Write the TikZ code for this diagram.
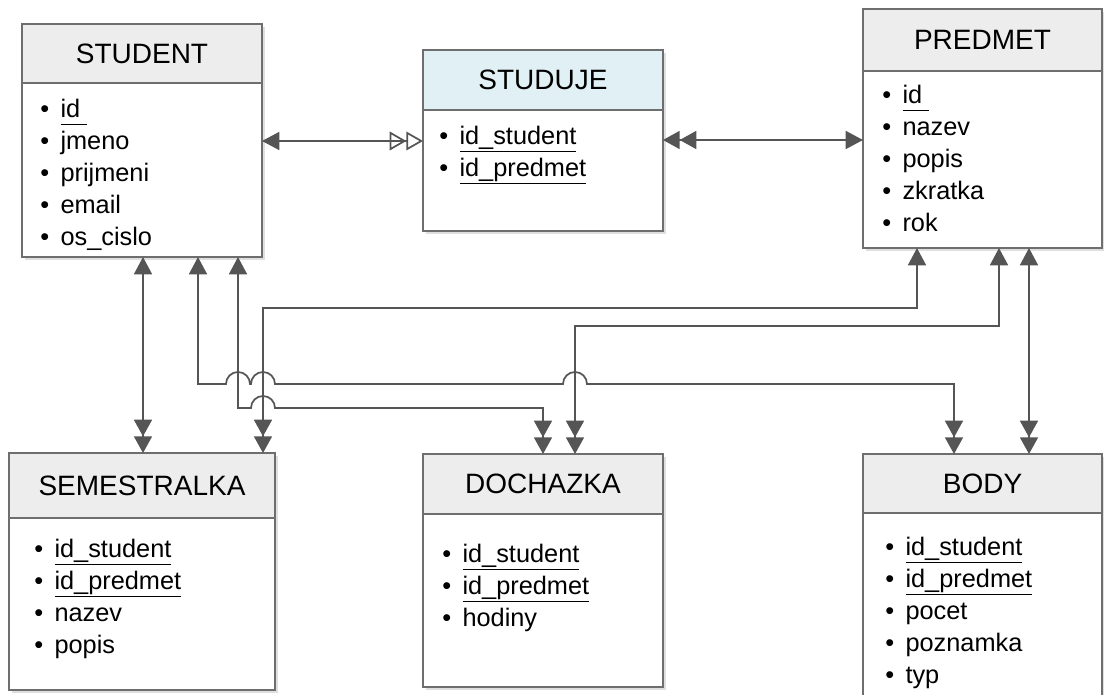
\documentclass[tikz,border=0pt]{standalone}
\usepackage{fontspec}
\setmainfont{Liberation Sans}
\usetikzlibrary{positioning,calc,arrows.meta,shadows}

\definecolor{boxline}{HTML}{6E6E6E}
\definecolor{headfill}{HTML}{EDEDED}
\definecolor{linkfill}{HTML}{E1F0F5}
\definecolor{connline}{HTML}{555555}

\newcommand{\pk}[1]{\underline{#1\vphantom{p}}}
\newcommand{\bul}{\textbullet\hspace{0.45em}}

\tikzset{
  onetip/.tip={Triangle[length=13pt,width=13.5pt]},
  twotip/.tip={Triangle[length=12.5pt,width=13.5pt,sep=0pt] Triangle[length=12.5pt,width=13.5pt]},
  opentip/.tip={Triangle[open,length=12.5pt,width=14pt,sep=0pt] Triangle[open,length=12.5pt,width=14pt]}
}

\begin{document}
\begin{tikzpicture}[x=0.75pt, y=-0.75pt,
    tablehead/.style={draw=boxline, line width=1.2pt, fill=headfill, outer sep=0pt, inner sep=0pt,
      font=\fontsize{21}{25}\selectfont,
      drop shadow={shadow xshift=2pt, shadow yshift=-2pt, opacity=0.25, fill=gray}},
    tablebody/.style={draw=boxline, line width=1.2pt, fill=white, outer sep=0pt, inner sep=0pt,
      drop shadow={shadow xshift=2pt, shadow yshift=-2pt, opacity=0.25, fill=gray}},
    attrs/.style={anchor=north west, align=left, inner sep=0pt, font=\fontsize{19}{24}\selectfont},
    conn/.style={draw=connline, line width=1.3pt}]

\useasboundingbox (0,0) rectangle (1104,695);

% STUDENT table
\node[tablehead, minimum width=180pt, minimum height=44.25pt] (student-h) at (142,53.5) {STUDENT};
\node[tablebody, minimum width=180pt, minimum height=130.5pt, below=0pt of student-h] (student-b) {};
\node[attrs] (student-l) at ($(student-b.north west)+(18,16)$)
  {\bul\pk{id\ }\\ \bul jmeno\\ \bul prijmeni\\ \bul email\\ \bul os\_cislo};

% STUDUJE table (link)
\node[tablehead, fill=linkfill, minimum width=180pt, minimum height=45pt] (studuje-h) at (543,80) {STUDUJE};
\node[tablebody, minimum width=180pt, minimum height=90.75pt, below=0pt of studuje-h] (studuje-b) {};
\node[attrs] (studuje-l) at ($(studuje-b.north west)+(16,16)$)
  {\bul\pk{id\_student}\\ \bul\pk{id\_predmet}};

% PREDMET table
\node[tablehead, minimum width=179.25pt, minimum height=46.5pt] (predmet-h) at (982.5,40) {PREDMET};
\node[tablebody, minimum width=179.25pt, minimum height=132.75pt, below=0pt of predmet-h] (predmet-b) {};
\node[attrs] (predmet-l) at ($(predmet-b.north west)+(19,14)$)
  {\bul\pk{id\ }\\ \bul nazev\\ \bul popis\\ \bul zkratka\\ \bul rok};

% SEMESTRALKA table
\node[tablehead, minimum width=199.5pt, minimum height=48.75pt] (semestralka-h) at (142,485.5) {SEMESTRALKA};
\node[tablebody, minimum width=199.5pt, minimum height=129pt, below=0pt of semestralka-h] (semestralka-b) {};
\node[attrs] (semestralka-l) at ($(semestralka-b.north west)+(25,21)$)
  {\bul\pk{id\_student}\\ \bul\pk{id\_predmet}\\ \bul nazev\\ \bul popis};

% DOCHAZKA table
\node[tablehead, minimum width=180pt, minimum height=45pt] (dochazka-h) at (543,484) {DOCHAZKA};
\node[tablebody, minimum width=180pt, minimum height=129.75pt, below=0pt of dochazka-h] (dochazka-b) {};
\node[attrs] (dochazka-l) at ($(dochazka-b.north west)+(19,30)$)
  {\bul\pk{id\_student}\\ \bul\pk{id\_predmet}\\ \bul hodiny};

% BODY table
\node[tablehead, minimum width=179.25pt, minimum height=44.25pt] (body-h) at (982.5,483.5) {BODY};
\node[tablebody, minimum width=179.25pt, minimum height=144pt, below=0pt of body-h] (body-b) {};
\node[attrs] (body-l) at ($(body-b.north west)+(22,24)$)
  {\bul\pk{id\_student}\\ \bul\pk{id\_predmet}\\ \bul pocet\\ \bul poznamka\\ \bul typ};

% Horizontal links through STUDUJE
\draw[conn, onetip-opentip] ($(student-b.north east)+(0,58)$) coordinate (a1) -- (a1 -| studuje-b.west);
\draw[conn, twotip-onetip] ($(studuje-b.north east)+(0,30)$) coordinate (a2) -- (a2 -| predmet-b.west);

% Links from STUDENT
\draw[conn, onetip-twotip] ($(student-b.south west)+(121,0)$) coordinate (a3) -- (a3 |- semestralka-h.north);
\draw[conn, onetip-twotip] ($(student-b.south west)+(176,0)$) -- ++(0,127) -- ++(28,0)
  arc[start angle=180, end angle=0, radius=9pt] -- ++(1,0)
  arc[start angle=180, end angle=0, radius=9pt] -- ++(288,0)
  arc[start angle=180, end angle=0, radius=9pt] -| ($(body-h.north west)+(91,0)$);
\draw[conn, onetip-twotip] ($(student-b.south west)+(216,0)$) -- ++(0,151) -- ++(13,0)
  arc[start angle=180, end angle=0, radius=9pt] -| ($(dochazka-h.north west)+(120,0)$);

% Links from PREDMET
\draw[conn, onetip-twotip] ($(predmet-b.south west)+(54,0)$) -- ++(0,60) -| ($(semestralka-h.north west)+(254,0)$);
\draw[conn, onetip-twotip] ($(predmet-b.south west)+(136,0)$) -- ++(0,78) -| ($(dochazka-h.north west)+(152,0)$);
\draw[conn, onetip-twotip] ($(predmet-b.south west)+(166,0)$) coordinate (a8) -- (a8 |- body-h.north);

\end{tikzpicture}
\end{document}
